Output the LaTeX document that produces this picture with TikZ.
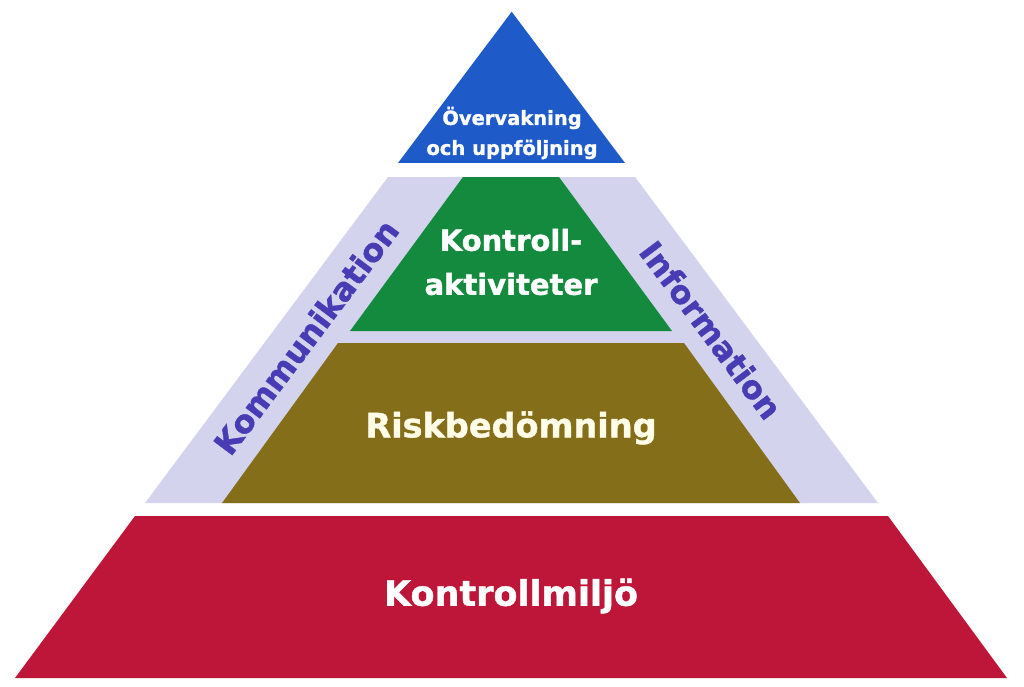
\documentclass[tikz,border=0pt]{standalone}
\usepackage{fontspec}
\setmainfont{DejaVu Sans}
\newfontfamily\heavy[FakeBold=1.2]{DejaVu Sans Bold}
\definecolor{topblue}{RGB}{30,90,200}
\definecolor{lav}{RGB}{211,211,238}
\definecolor{grn}{RGB}{20,138,62}
\definecolor{olv}{RGB}{133,110,26}
\definecolor{rd}{RGB}{190,22,56}
\definecolor{txtblue}{RGB}{72,60,180}
\definecolor{cream}{RGB}{255,252,232}
\tikzset{
  lbl/.style={text=white,align=center,inner sep=0pt},
  side/.style={text=txtblue,font=\heavy\fontsize{32}{36}\selectfont,inner sep=0pt}
}
\begin{document}
\begin{tikzpicture}[x=1pt,y=-1pt]
\useasboundingbox[fill=white] (0,0) rectangle (1024,687);
% layers
\fill[topblue] (511.7,11.7) -- (625,163) -- (398,163) -- cycle;
\fill[lav] (388,177) -- (635,177) -- (878,503) -- (145,503) -- cycle;
\fill[grn] (463,177) -- (559,177) -- (672,331) -- (350,331) -- cycle;
\fill[olv] (338,343) -- (684,343) -- (800,503) -- (222,503) -- cycle;
\fill[rd] (135,516) -- (888,516) -- (1007,678) -- (15,678) -- cycle;
% texts
\node[lbl,font=\heavy\fontsize{19.5}{30}\selectfont] (top) at (512,133) {Övervakning\\och uppföljning};
\node[lbl,font=\heavy\fontsize{29}{44}\selectfont] (ctl) at (511,262) {Kontroll-\\aktiviteter};
\node[lbl,text=cream,font=\heavy\fontsize{33.5}{40}\selectfont] (risk) at (511,428) {Riskbedömning};
\node[lbl,font=\heavy\fontsize{35}{40}\selectfont] (env) at (511,596) {Kontrollmiljö};
\node[side,rotate=53.1] (kom) at (306,337) {Kommunikation};
\node[side,rotate=-53.1] (inf) at (711,330) {Information};
\end{tikzpicture}
\end{document}
